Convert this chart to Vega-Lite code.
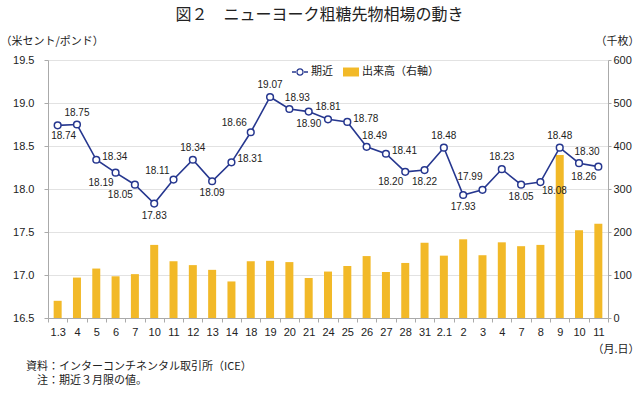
{
  "$schema": "https://vega.github.io/schema/vega-lite/v6.json",
  "autosize": {"type": "pad"},
  "padding": {"top": 7, "left": 0, "right": 0, "bottom": 0},
  "background": "white",
  "title": {
    "text": "図２　ニューヨーク粗糖先物相場の動き",
    "anchor": "middle",
    "offset": 12,
    "font": "Noto Sans CJK JP",
    "fontSize": 16,
    "fontWeight": "normal",
    "color": "#222222"
  },
  "vconcat": [
    {
      "width": 560,
      "height": 258,
      "title": {
        "text": ["資料：インターコンチネンタル取引所（ICE）", "\u200b\u3000注：期近３月限の値。"],
        "orient": "bottom",
        "anchor": "start",
        "frame": "group",
        "dx": -22,
        "offset": 7,
        "font": "Noto Sans CJK JP",
        "fontSize": 11,
        "fontWeight": "normal",
        "lineHeight": 14,
        "color": "#222222"
      },
      "data": {
        "values": [
          {"d": "1.3", "p": 18.74, "v": 40, "pos": "belowr"},
          {"d": "1.4", "p": 18.75, "v": 94, "pos": "above"},
          {"d": "1.5", "p": 18.34, "v": 115, "pos": "right"},
          {"d": "1.6", "p": 18.19, "v": 97, "pos": "belowleft"},
          {"d": "1.7", "p": 18.05, "v": 102, "pos": "belowleft"},
          {"d": "1.10", "p": 17.83, "v": 170, "pos": "below"},
          {"d": "1.11", "p": 18.11, "v": 132, "pos": "aboveleft"},
          {"d": "1.12", "p": 18.34, "v": 123, "pos": "above"},
          {"d": "1.13", "p": 18.09, "v": 112, "pos": "below"},
          {"d": "1.14", "p": 18.31, "v": 85, "pos": "right"},
          {"d": "1.18", "p": 18.66, "v": 132, "pos": "aboveleft"},
          {"d": "1.19", "p": 19.07, "v": 133, "pos": "above"},
          {"d": "1.20", "p": 18.93, "v": 130, "pos": "aboveright"},
          {"d": "1.21", "p": 18.90, "v": 93, "pos": "below"},
          {"d": "1.24", "p": 18.81, "v": 108, "pos": "above"},
          {"d": "1.25", "p": 18.78, "v": 121, "pos": "right"},
          {"d": "1.26", "p": 18.49, "v": 144, "pos": "aboveright"},
          {"d": "1.27", "p": 18.41, "v": 107, "pos": "right"},
          {"d": "1.28", "p": 18.20, "v": 128, "pos": "belowleft"},
          {"d": "1.31", "p": 18.22, "v": 175, "pos": "below"},
          {"d": "2.1", "p": 18.48, "v": 145, "pos": "above"},
          {"d": "2.2", "p": 17.93, "v": 183, "pos": "below"},
          {"d": "2.3", "p": 17.99, "v": 146, "pos": "upleft"},
          {"d": "2.4", "p": 18.23, "v": 176, "pos": "above"},
          {"d": "2.7", "p": 18.05, "v": 167, "pos": "below"},
          {"d": "2.8", "p": 18.08, "v": 170, "pos": "belowright"},
          {"d": "2.9", "p": 18.48, "v": 379, "pos": "above"},
          {"d": "2.10", "p": 18.30, "v": 204, "pos": "aboveright"},
          {"d": "2.11", "p": 18.26, "v": 219, "pos": "belowleft"}
        ]
      },
      "encoding": {
        "x": {
          "field": "d",
          "type": "nominal",
          "sort": null,
          "scale": {"paddingInner": 0, "paddingOuter": 0},
          "axis": {
            "labelAngle": 0,
            "labelExpr": "(datum.value == '1.3' || datum.value == '2.1') ? datum.value : split(datum.value, '.')[1]",
            "labelFont": "Liberation Sans",
            "labelFontSize": 11,
            "labelColor": "#222222",
            "labelPadding": 4,
            "tickBand": "extent",
            "tickSize": 4,
            "tickColor": "#aaaaaa",
            "domainColor": "#aaaaaa",
            "title": "（月.日）",
            "titleFont": "Noto Sans CJK JP",
            "titleFontSize": 11,
            "titleFontWeight": "normal",
            "titleColor": "#222222",
            "titleAlign": "right",
            "titleBaseline": "middle",
            "titleAnchor": "start",
            "titleX": 591,
            "titleY": 31
          }
        }
      },
      "layer": [
        {
          "mark": {"type": "bar", "size": 8},
          "encoding": {
            "y": {
              "field": "v",
              "type": "quantitative",
              "scale": {"domain": [0, 600], "nice": false},
              "axis": {
                "orient": "right",
                "values": [0, 100, 200, 300, 400, 500, 600],
                "grid": false,
                "labelFont": "Liberation Sans",
                "labelFontSize": 11,
                "labelColor": "#222222",
                "labelPadding": 2,
                "tickSize": 3,
                "tickColor": "#aaaaaa",
                "domainColor": "#aaaaaa",
                "title": "（千枚）",
                "titleFont": "Noto Sans CJK JP",
                "titleFontSize": 11,
                "titleFontWeight": "normal",
                "titleColor": "#222222",
                "titleAngle": 0,
                "titleAlign": "right",
                "titleBaseline": "middle",
                "titleX": 31,
                "titleY": -19
              }
            },
            "color": {
              "datum": "出来高（右軸）",
              "scale": {"domain": ["期近", "出来高（右軸）"], "range": ["#26378f", "#f2b928"]},
              "legend": {
                "orient": "none",
                "legendX": 244,
                "legendY": 4,
                "direction": "horizontal",
                "title": null,
                "labelFont": "Noto Sans CJK JP",
                "labelFontSize": 11,
                "labelColor": "#222222",
                "symbolSize": 256,
                "symbolStrokeWidth": 0,
                "columnPadding": 10,
                "labelOffset": 3,
                "encode": {
                  "symbols": {
                    "update": {
                      "shape": {"signal": "datum.value === '期近' ? 'M-1,-0.1H-0.4V0.1H-1Z M0.4,-0.1H1V0.1H0.4Z M-0.47,0A0.47,0.47 0 1,0 0.47,0A0.47,0.47 0 1,0 -0.47,0Z M-0.3,0A0.3,0.3 0 1,1 0.3,0A0.3,0.3 0 1,1 -0.3,0Z' : 'M-1,-0.56H1V0.56H-1Z'"},
                      "strokeWidth": {"value": 0},
                      "opacity": {"value": 1}
                    }
                  }
                }
              }
            }
          }
        },
        {
          "layer": [
            {
              "mark": {"type": "line", "strokeWidth": 1.6},
              "encoding": {
                "y": {
                  "field": "p",
                  "type": "quantitative",
                  "scale": {"domain": [16.5, 19.5], "nice": false, "zero": false},
                  "axis": {
                    "orient": "left",
                    "values": [16.5, 17.0, 17.5, 18.0, 18.5, 19.0, 19.5],
                    "format": ".1f",
                    "grid": true,
                    "gridColor": "#e2e2e2",
                    "labelFont": "Liberation Sans",
                    "labelFontSize": 11,
                    "labelColor": "#222222",
                    "labelPadding": 10,
                    "tickSize": 4,
                    "tickColor": "#aaaaaa",
                    "domainColor": "#aaaaaa",
                    "title": "（米セント/ポンド）",
                    "titleFont": "Noto Sans CJK JP",
                    "titleFontSize": 11,
                    "titleFontWeight": "normal",
                    "titleColor": "#222222",
                    "titleAngle": 0,
                    "titleAlign": "left",
                    "titleBaseline": "middle",
                    "titleX": -48,
                    "titleY": -19
                  }
                },
                "color": {"datum": "期近"}
              }
            },
            {
              "mark": {"type": "point", "filled": false, "fill": "white", "fillOpacity": 1, "opacity": 1, "size": 45, "strokeWidth": 1.5},
              "encoding": {
                "y": {"field": "p", "type": "quantitative"},
                "color": {"datum": "期近"}
              }
            },
            {
              "transform": [{"filter": "datum.pos == 'above'"}],
              "mark": {"type": "text", "font": "Liberation Sans", "fontSize": 10, "color": "#222222", "align": "center", "baseline": "middle", "dy": -12},
              "encoding": {"y": {"field": "p", "type": "quantitative"}, "text": {"field": "p", "type": "quantitative", "format": ".2f"}}
            },
            {
              "transform": [{"filter": "datum.pos == 'below'"}],
              "mark": {"type": "text", "font": "Liberation Sans", "fontSize": 10, "color": "#222222", "align": "center", "baseline": "middle", "dy": 12},
              "encoding": {"y": {"field": "p", "type": "quantitative"}, "text": {"field": "p", "type": "quantitative", "format": ".2f"}}
            },
            {
              "transform": [{"filter": "datum.pos == 'belowr'"}],
              "mark": {"type": "text", "font": "Liberation Sans", "fontSize": 10, "color": "#222222", "align": "center", "baseline": "middle", "dx": 6, "dy": 11},
              "encoding": {"y": {"field": "p", "type": "quantitative"}, "text": {"field": "p", "type": "quantitative", "format": ".2f"}}
            },
            {
              "transform": [{"filter": "datum.pos == 'right'"}],
              "mark": {"type": "text", "font": "Liberation Sans", "fontSize": 10, "color": "#222222", "align": "left", "baseline": "middle", "dx": 6, "dy": -3},
              "encoding": {"y": {"field": "p", "type": "quantitative"}, "text": {"field": "p", "type": "quantitative", "format": ".2f"}}
            },
            {
              "transform": [{"filter": "datum.pos == 'belowleft'"}],
              "mark": {"type": "text", "font": "Liberation Sans", "fontSize": 10, "color": "#222222", "align": "right", "baseline": "middle", "dx": -2, "dy": 10},
              "encoding": {"y": {"field": "p", "type": "quantitative"}, "text": {"field": "p", "type": "quantitative", "format": ".2f"}}
            },
            {
              "transform": [{"filter": "datum.pos == 'aboveleft'"}],
              "mark": {"type": "text", "font": "Liberation Sans", "fontSize": 10, "color": "#222222", "align": "right", "baseline": "middle", "dx": -4, "dy": -9},
              "encoding": {"y": {"field": "p", "type": "quantitative"}, "text": {"field": "p", "type": "quantitative", "format": ".2f"}}
            },
            {
              "transform": [{"filter": "datum.pos == 'upleft'"}],
              "mark": {"type": "text", "font": "Liberation Sans", "fontSize": 10, "color": "#222222", "align": "right", "baseline": "middle", "dx": 0, "dy": -13},
              "encoding": {"y": {"field": "p", "type": "quantitative"}, "text": {"field": "p", "type": "quantitative", "format": ".2f"}}
            },
            {
              "transform": [{"filter": "datum.pos == 'aboveright'"}],
              "mark": {"type": "text", "font": "Liberation Sans", "fontSize": 10, "color": "#222222", "align": "center", "baseline": "middle", "dx": 8, "dy": -11},
              "encoding": {"y": {"field": "p", "type": "quantitative"}, "text": {"field": "p", "type": "quantitative", "format": ".2f"}}
            },
            {
              "transform": [{"filter": "datum.pos == 'belowright'"}],
              "mark": {"type": "text", "font": "Liberation Sans", "fontSize": 10, "color": "#222222", "align": "center", "baseline": "middle", "dx": 14, "dy": 9},
              "encoding": {"y": {"field": "p", "type": "quantitative"}, "text": {"field": "p", "type": "quantitative", "format": ".2f"}}
            }
          ]
        }
      ],
      "resolve": {"scale": {"y": "independent"}, "axis": {"y": "independent"}}
    }
  ],
  "config": {
    "view": {"stroke": null}
  }
}
